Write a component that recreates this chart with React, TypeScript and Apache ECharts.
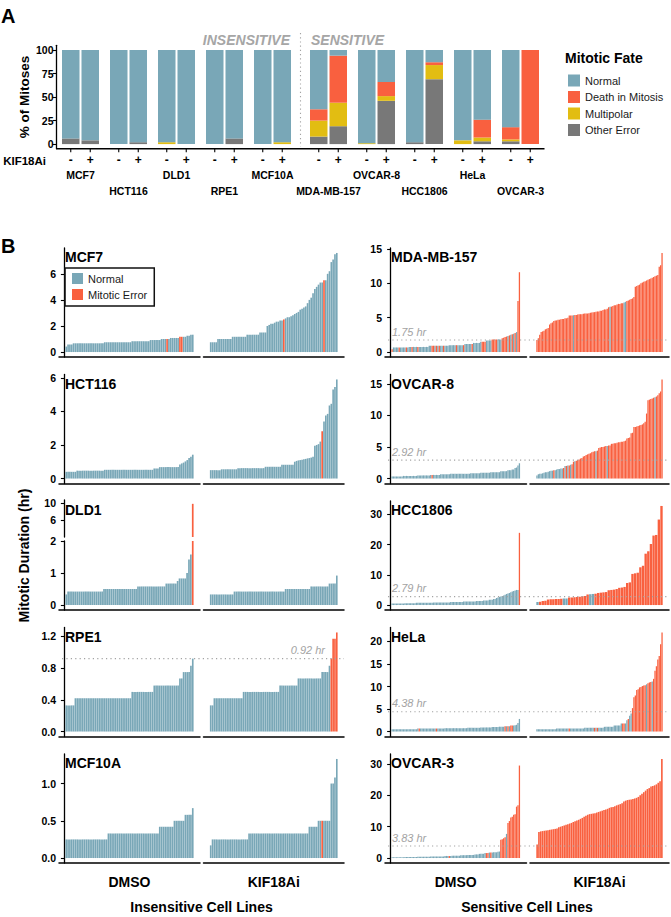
import React, { useEffect, useRef } from "react";
import * as echarts from "echarts";

const FONT = '"Liberation Sans", Arial, Helvetica, sans-serif';
const C_NORMAL = "#79A7B7";
const C_DEATH = "#F9603F";
const C_MULTI = "#E2BD12";
const C_OTHER = "#787878";
const C_REF = "#A3A3A3";

// ---------------- Panel A data (% of mitoses) ----------------
const cellLines = ["MCF7", "HCT116", "DLD1", "RPE1", "MCF10A", "MDA-MB-157", "OVCAR-8", "HCC1806", "HeLa", "OVCAR-3"];
const treatmentMarks = ["-", "+"];
const fateNames = ["Normal", "Death in Mitosis", "Multipolar", "Other Error"];
const dmsoNormal = [94, 100, 98, 100, 100, 63, 99, 98, 96, 82];
const dmsoDeath = [0, 0, 0, 0, 0, 12, 0, 0, 0, 13];
const dmsoMulti = [0, 0, 2, 0, 0, 17, 1, 0, 4, 2];
const dmsoOther = [6, 0, 0, 0, 0, 8, 0, 2, 0, 3];
const kifNormal = [96, 98, 100, 94, 98, 6, 34, 13, 74, 0];
const kifDeath = [0, 0, 0, 0, 0, 50, 15, 3, 19, 100];
const kifMulti = [0, 0, 0, 0, 2, 25, 5, 15, 4, 0];
const kifOther = [4, 2, 0, 6, 0, 19, 46, 69, 3, 0];
const pctTicks = [0, 25, 50, 75, 100];

// ---------------- Panel B data (mitotic duration, hr) ----------------
const mcf7Dmso = [
  0.42, 0.58, 0.58, 0.58, 0.67, 0.67, 0.67, 0.67, 0.67, 0.67,
  0.67, 0.67, 0.67, 0.67, 0.67, 0.67, 0.67, 0.67, 0.67, 0.67,
  0.67, 0.75, 0.75, 0.75, 0.75, 0.75, 0.75, 0.75, 0.75, 0.75,
  0.75, 0.75, 0.75, 0.75, 0.75, 0.75, 0.83, 0.83, 0.83, 0.83,
  0.83, 0.83, 0.83, 0.83, 0.83, 0.83, 0.92, 0.92, 0.92, 0.92,
  0.92, 0.92, 1.0, 1.0, 1.0, 1.0, 1.0, 1.08, 1.08, 1.08,
  1.08, 1.08, 1.17, 1.17, 1.17, 1.17, 1.25, 1.25, 1.33, 1.33,
];
const mcf7DmsoErr = [55, 62, 63];
const mcf7Kif = [
  0.75, 0.75, 0.75, 0.75, 1.0, 1.0, 1.0, 1.0, 1.0, 1.0,
  1.0, 1.0, 1.17, 1.17, 1.17, 1.17, 1.17, 1.17, 1.17, 1.17,
  1.33, 1.33, 1.33, 1.33, 1.33, 1.33, 1.33, 1.5, 1.5, 1.5,
  1.5, 2.0, 2.08, 2.17, 2.17, 2.25, 2.33, 2.33, 2.42, 2.42,
  2.5, 2.58, 2.67, 2.67, 2.75, 2.83, 2.92, 3.0, 3.08, 3.25,
  3.33, 3.42, 3.5, 3.75, 4.0, 4.17, 4.5, 4.83, 5.0, 5.17,
  5.33, 5.33, 5.5, 5.5, 6.0, 6.2, 6.9, 7.1, 7.5, 7.6,
];
const mcf7KifErr = [40, 62];
const mcf7Ticks = [0, 2, 4, 6];

const hct116Dmso = [
  0.4, 0.4, 0.4, 0.4, 0.4, 0.4, 0.47, 0.47, 0.47, 0.47,
  0.47, 0.47, 0.47, 0.47, 0.47, 0.47, 0.47, 0.47, 0.47, 0.47,
  0.47, 0.52, 0.52, 0.52, 0.52, 0.52, 0.52, 0.52, 0.52, 0.52,
  0.52, 0.52, 0.52, 0.52, 0.52, 0.52, 0.52, 0.52, 0.52, 0.52,
  0.52, 0.52, 0.52, 0.52, 0.52, 0.52, 0.52, 0.52, 0.6, 0.6,
  0.6, 0.68, 0.68, 0.68, 0.68, 0.68, 0.68, 0.68, 0.68, 0.68,
  0.68, 0.68, 0.84, 0.9, 0.95, 1.02, 1.1, 1.22, 1.3, 1.42,
];
const hct116DmsoErr: number[] = [];
const hct116Kif = [
  0.5, 0.5, 0.5, 0.5, 0.5, 0.5, 0.55, 0.55, 0.55, 0.55,
  0.55, 0.55, 0.55, 0.55, 0.55, 0.62, 0.62, 0.62, 0.62, 0.62,
  0.62, 0.62, 0.62, 0.62, 0.62, 0.62, 0.62, 0.62, 0.62, 0.62,
  0.7, 0.7, 0.7, 0.7, 0.7, 0.7, 0.7, 0.7, 0.7, 0.82,
  0.82, 0.82, 0.82, 0.82, 0.82, 0.82, 1.0, 1.05, 1.08, 1.1,
  1.12, 1.15, 1.17, 1.2, 1.22, 1.25, 1.3, 1.95, 2.0, 2.05,
  2.2, 2.82, 3.4, 3.75, 3.85, 4.35, 4.45, 5.3, 5.45, 5.9,
];
const hct116KifErr = [61];
const hct116Ticks = [0, 2, 4, 6];

const dld1Dmso = [
  0.33, 0.42, 0.42, 0.42, 0.42, 0.42, 0.42, 0.42, 0.42, 0.42,
  0.42, 0.42, 0.42, 0.42, 0.42, 0.42, 0.42, 0.42, 0.42, 0.42,
  0.5, 0.5, 0.5, 0.5, 0.5, 0.5, 0.5, 0.5, 0.5, 0.5,
  0.5, 0.5, 0.5, 0.5, 0.5, 0.5, 0.5, 0.5, 0.58, 0.58,
  0.58, 0.58, 0.58, 0.58, 0.58, 0.58, 0.58, 0.58, 0.58, 0.58,
  0.58, 0.58, 0.58, 0.67, 0.67, 0.67, 0.67, 0.67, 0.67, 0.75,
  0.83, 0.83, 0.83, 0.83, 1.0, 1.42, 1.58, 9.8,
];
const dld1DmsoErr = [67];
const dld1Kif = [
  0.33, 0.33, 0.33, 0.33, 0.33, 0.33, 0.33, 0.33, 0.33, 0.33,
  0.33, 0.33, 0.33, 0.42, 0.42, 0.42, 0.42, 0.42, 0.42, 0.42,
  0.42, 0.42, 0.42, 0.42, 0.42, 0.42, 0.42, 0.42, 0.42, 0.42,
  0.42, 0.42, 0.42, 0.42, 0.42, 0.42, 0.42, 0.42, 0.42, 0.42,
  0.42, 0.5, 0.5, 0.5, 0.5, 0.5, 0.5, 0.5, 0.5, 0.5,
  0.5, 0.5, 0.5, 0.5, 0.5, 0.58, 0.58, 0.58, 0.58, 0.58,
  0.58, 0.58, 0.58, 0.58, 0.58, 0.67, 0.67, 0.67, 0.67, 0.92,
];
const dld1KifErr: number[] = [];
const dld1LowTicks = [0, 1, 2];
const dld1HighTicks = [6, 10];
const dld1LowRange = [-0.156, 2.0];
const dld1HighRange = [2.0, 10.7];

const rpe1Dmso = [
  0.33, 0.33, 0.33, 0.33, 0.33, 0.42, 0.42, 0.42, 0.42, 0.42,
  0.42, 0.42, 0.42, 0.42, 0.42, 0.42, 0.42, 0.42, 0.42, 0.42,
  0.42, 0.42, 0.42, 0.42, 0.42, 0.42, 0.42, 0.42, 0.42, 0.42,
  0.42, 0.42, 0.42, 0.42, 0.42, 0.42, 0.5, 0.5, 0.5, 0.5,
  0.5, 0.5, 0.5, 0.5, 0.5, 0.5, 0.5, 0.5, 0.58, 0.58,
  0.58, 0.58, 0.58, 0.58, 0.58, 0.58, 0.58, 0.58, 0.58, 0.58,
  0.58, 0.58, 0.67, 0.67, 0.75, 0.75, 0.75, 0.75, 0.83, 0.92,
];
const rpe1DmsoErr: number[] = [];
const rpe1Kif = [
  0.33, 0.33, 0.42, 0.42, 0.42, 0.42, 0.42, 0.42, 0.42, 0.42,
  0.42, 0.42, 0.42, 0.42, 0.42, 0.42, 0.42, 0.42, 0.5, 0.5,
  0.5, 0.5, 0.5, 0.5, 0.5, 0.5, 0.5, 0.5, 0.5, 0.5,
  0.5, 0.5, 0.5, 0.5, 0.5, 0.5, 0.5, 0.5, 0.58, 0.58,
  0.58, 0.58, 0.58, 0.58, 0.58, 0.58, 0.58, 0.58, 0.67, 0.67,
  0.67, 0.67, 0.67, 0.67, 0.67, 0.67, 0.67, 0.67, 0.67, 0.67,
  0.67, 0.75, 0.75, 0.75, 0.75, 0.83, 0.92, 1.17, 1.17, 1.25,
];
const rpe1KifErr = [66, 67, 68, 69];
const rpe1Ticks = [0, 0.4, 0.8, 1.2];
const rpe1Thr = 0.92;

const mcf10aDmso = [
  0.25, 0.25, 0.25, 0.25, 0.25, 0.25, 0.25, 0.25, 0.25, 0.25,
  0.25, 0.25, 0.25, 0.25, 0.25, 0.25, 0.25, 0.25, 0.25, 0.25,
  0.25, 0.25, 0.25, 0.33, 0.33, 0.33, 0.33, 0.33, 0.33, 0.33,
  0.33, 0.33, 0.33, 0.33, 0.33, 0.33, 0.33, 0.33, 0.33, 0.33,
  0.33, 0.33, 0.33, 0.33, 0.33, 0.33, 0.33, 0.33, 0.33, 0.33,
  0.33, 0.42, 0.42, 0.42, 0.42, 0.42, 0.42, 0.42, 0.42, 0.5,
  0.5, 0.5, 0.5, 0.5, 0.5, 0.58, 0.58, 0.58, 0.58, 0.67,
];
const mcf10aDmsoErr: number[] = [];
const mcf10aKif = [
  0.17, 0.25, 0.25, 0.25, 0.25, 0.25, 0.25, 0.25, 0.25, 0.25,
  0.25, 0.25, 0.25, 0.25, 0.25, 0.25, 0.25, 0.25, 0.25, 0.25,
  0.25, 0.33, 0.33, 0.33, 0.33, 0.33, 0.33, 0.33, 0.33, 0.33,
  0.33, 0.33, 0.33, 0.33, 0.33, 0.33, 0.33, 0.33, 0.33, 0.33,
  0.33, 0.33, 0.33, 0.33, 0.33, 0.33, 0.33, 0.33, 0.33, 0.33,
  0.33, 0.33, 0.33, 0.33, 0.42, 0.42, 0.42, 0.42, 0.42, 0.5,
  0.5, 0.5, 0.5, 0.5, 0.5, 0.5, 1.0, 1.0, 1.08, 1.33,
];
const mcf10aKifErr = [61];
const mcf10aTicks = [0, 0.5, 1.0];

const mdaDmso = [
  0.42, 0.67, 0.67, 0.67, 0.67, 0.67, 0.67, 0.67, 0.67, 0.67,
  0.67, 0.67, 0.75, 0.75, 0.75, 0.75, 0.75, 0.75, 0.75, 0.75,
  0.75, 0.75, 0.75, 0.75, 0.75, 0.75, 0.92, 0.92, 0.92, 0.92,
  0.92, 0.92, 0.92, 0.92, 0.92, 0.92, 0.92, 0.92, 0.92, 0.92,
  1.0, 1.0, 1.0, 1.0, 1.0, 1.0, 1.0, 1.0, 1.0, 1.0,
  1.0, 1.17, 1.17, 1.17, 1.17, 1.17, 1.17, 1.33, 1.33, 1.33,
  1.33, 1.33, 1.5, 1.5, 1.5, 1.5, 1.67, 1.67, 1.67, 1.67,
  1.83, 1.83, 1.83, 1.83, 1.83, 1.83, 1.83, 2.0, 2.08, 2.17,
  2.25, 2.33, 2.42, 2.5, 2.58, 2.67, 2.75, 2.9, 7.4, 11.6,
];
const mdaDmsoErr = [0, 5, 10, 14, 18, 28, 29, 31, 33, 36, 45, 50, 56, 63, 64, 65, 70, 71, 72, 73, 77, 78, 79, 80, 82, 84, 86, 88, 89];
const mdaKif = [
  1.75, 2.0, 2.5, 2.9, 3.0, 3.1, 3.3, 3.4, 3.5, 4.0,
  4.2, 4.3, 4.5, 4.6, 4.6, 4.7, 4.7, 4.75, 4.8, 4.8,
  4.9, 4.9, 5.0, 5.3, 5.3, 5.3, 5.35, 5.4, 5.4, 5.45,
  5.5, 5.5, 5.5, 5.55, 5.6, 5.6, 5.6, 5.65, 5.7, 5.75,
  5.8, 5.8, 5.85, 5.9, 5.9, 6.0, 6.0, 6.1, 6.2, 6.2,
  6.3, 6.5, 6.6, 6.6, 6.7, 6.8, 6.8, 6.9, 7.0, 7.0,
  7.1, 7.1, 7.2, 7.3, 7.4, 7.5, 7.6, 7.7, 7.8, 8.0,
  9.5, 9.6, 9.7, 9.8, 10.0, 10.1, 10.2, 10.3, 10.4, 10.5,
  10.6, 10.7, 10.8, 10.9, 11.0, 11.1, 11.2, 12.4, 12.6, 14.4,
];
const mdaKifNormal = [26, 52, 62, 63];
const mdaTicks = [0, 5, 10, 15];
const mdaThr = 1.75;

const ovcar8Dmso = [
  0.33, 0.33, 0.33, 0.33, 0.33, 0.33, 0.33, 0.33, 0.42, 0.42,
  0.42, 0.42, 0.42, 0.42, 0.42, 0.42, 0.42, 0.42, 0.5, 0.5,
  0.5, 0.5, 0.5, 0.5, 0.5, 0.5, 0.5, 0.58, 0.58, 0.58,
  0.58, 0.58, 0.58, 0.58, 0.67, 0.67, 0.67, 0.67, 0.67, 0.67,
  0.67, 0.75, 0.75, 0.75, 0.75, 0.75, 0.75, 0.75, 0.75, 0.75,
  0.75, 0.75, 0.75, 0.75, 0.75, 0.83, 0.83, 0.83, 0.83, 0.83,
  0.83, 0.83, 0.92, 0.92, 0.92, 0.92, 0.92, 0.92, 0.92, 1.0,
  1.0, 1.0, 1.0, 1.0, 1.0, 1.0, 1.17, 1.17, 1.17, 1.17,
  1.17, 1.33, 1.33, 1.33, 1.42, 1.42, 1.67, 1.75, 2.08, 2.42,
];
const ovcar8DmsoErr = [28];
const ovcar8Kif = [
  0.5, 0.67, 0.75, 0.75, 0.83, 0.92, 1.0, 1.0, 1.08, 1.17,
  1.25, 1.25, 1.33, 1.33, 1.42, 1.5, 1.5, 1.58, 1.58, 1.67,
  2.0, 2.0, 2.08, 2.08, 2.17, 2.25, 2.67, 2.75, 2.83, 2.92,
  3.0, 3.17, 3.25, 3.5, 3.58, 3.75, 3.83, 3.92, 4.0, 4.17,
  4.25, 4.33, 4.33, 4.42, 4.83, 4.92, 5.0, 5.0, 5.08, 5.17,
  5.17, 5.25, 5.25, 5.5, 5.5, 5.58, 5.58, 5.67, 5.75, 5.75,
  5.83, 5.83, 5.92, 6.0, 6.33, 6.42, 6.5, 7.17, 7.25, 8.17,
  8.17, 8.25, 8.33, 8.42, 8.5, 8.58, 8.75, 9.0, 10.3, 12.4,
  12.5, 12.6, 12.7, 12.8, 12.9, 13.0, 13.2, 13.5, 13.8, 15.7,
];
const ovcar8KifNormal = [0, 1, 2, 3, 4, 5, 6, 7, 8, 9, 10, 11, 13, 14, 15, 16, 17, 18, 20, 22, 24, 27, 42, 50, 84];
const ovcar8Ticks = [0, 5, 10, 15];
const ovcar8Thr = 2.92;

const hccDmso = [
  0.5, 0.5, 0.5, 0.5, 0.5, 0.5, 0.5, 0.5, 0.5, 0.58,
  0.58, 0.58, 0.58, 0.58, 0.58, 0.58, 0.58, 0.75, 0.75, 0.75,
  0.75, 0.75, 0.75, 0.75, 0.75, 0.75, 0.75, 0.75, 0.75, 0.83,
  0.83, 0.83, 0.83, 0.83, 0.83, 0.83, 0.83, 0.83, 0.83, 0.83,
  0.83, 1.0, 1.0, 1.0, 1.0, 1.0, 1.0, 1.0, 1.0, 1.0,
  1.17, 1.17, 1.17, 1.17, 1.17, 1.17, 1.17, 1.17, 1.17, 1.33,
  1.33, 1.33, 1.33, 1.33, 1.5, 1.5, 1.5, 1.5, 1.75, 1.75,
  1.75, 2.0, 2.0, 2.33, 2.5, 2.67, 2.83, 3.0, 3.17, 3.42,
  3.67, 3.83, 4.0, 4.25, 4.5, 4.67, 4.83, 5.0, 5.0, 23.9,
];
const hccDmsoErr = [89];
const hccKif = [
  1.0, 1.08, 1.33, 1.42, 1.83, 1.92, 1.92, 2.0, 2.0, 2.08,
  2.17, 2.17, 2.5, 2.5, 2.58, 2.67, 2.75, 2.92, 3.0, 3.5,
  3.58, 3.67, 3.75, 4.0, 4.1, 4.2, 4.3, 4.9, 5.0, 5.1,
  5.3, 5.7, 5.8, 6.0, 7.3, 7.5, 10.3, 10.5, 10.7, 12.5,
  13.0, 17.0, 17.8, 20.2, 23.0, 23.2, 28.3, 32.8,
];
const hccKifNormal = [0, 10, 11, 20, 21];
const hccTicks = [0, 10, 20, 30];
const hccThr = 2.79;

const helaDmso = [
  0.5, 0.5, 0.5, 0.5, 0.5, 0.5, 0.5, 0.5, 0.5, 0.5,
  0.5, 0.5, 0.5, 0.5, 0.5, 0.5, 0.5, 0.5, 0.67, 0.67,
  0.67, 0.67, 0.67, 0.67, 0.67, 0.67, 0.67, 0.67, 0.67, 0.67,
  0.67, 0.67, 0.67, 0.67, 0.67, 0.67, 0.67, 0.75, 0.75, 0.75,
  0.75, 0.75, 0.75, 0.75, 0.75, 0.75, 0.75, 0.75, 0.75, 0.75,
  0.75, 0.75, 0.75, 0.83, 0.83, 0.83, 0.83, 0.83, 0.83, 0.83,
  0.83, 0.83, 0.92, 0.92, 0.92, 0.92, 0.92, 0.92, 0.92, 0.92,
  1.0, 1.0, 1.0, 1.0, 1.0, 1.08, 1.08, 1.08, 1.08, 1.17,
  1.17, 1.17, 1.17, 1.33, 1.33, 1.33, 1.42, 1.5, 1.9, 2.8,
];
const helaDmsoErr = [19, 31, 79, 81, 83, 84];
const helaKif = [
  0.5, 0.5, 0.5, 0.5, 0.5, 0.5, 0.5, 0.5, 0.5, 0.5,
  0.5, 0.5, 0.5, 0.5, 0.67, 0.67, 0.67, 0.67, 0.67, 0.67,
  0.67, 0.67, 0.67, 0.67, 0.67, 0.67, 0.67, 0.67, 0.67, 0.67,
  0.67, 0.67, 0.67, 0.67, 0.83, 0.83, 0.83, 0.83, 0.83, 0.83,
  0.83, 0.83, 0.83, 0.83, 0.83, 0.83, 0.83, 0.83, 1.05, 1.05,
  1.05, 1.05, 1.05, 1.05, 1.05, 1.35, 1.35, 1.35, 1.35, 1.35,
  1.8, 1.8, 1.8, 1.8, 2.5, 2.8, 3.5, 4.0, 5.2, 7.6,
  8.0, 9.2, 9.4, 9.8, 9.9, 10.1, 10.2, 10.3, 10.5, 10.7,
  10.9, 11.0, 11.1, 11.7, 13.5, 14.5, 16.0, 16.8, 19.4, 22.0,
];
const helaKifErr = [23, 41, 43, 61, 62, 65, 68, 69, 70, 71, 72, 73, 74, 75, 76, 77, 79, 80, 81, 83, 84, 85, 86, 87, 88, 89];
const helaTicks = [0, 5, 10, 15, 20];
const helaThr = 4.38;

const ovcar3Dmso = [
  0.25, 0.25, 0.25, 0.25, 0.25, 0.25, 0.25, 0.25, 0.25, 0.33,
  0.33, 0.33, 0.33, 0.33, 0.33, 0.33, 0.33, 0.33, 0.42, 0.42,
  0.42, 0.42, 0.42, 0.42, 0.42, 0.42, 0.42, 0.5, 0.5, 0.5,
  0.5, 0.5, 0.5, 0.5, 0.5, 0.5, 0.5, 0.67, 0.67, 0.67,
  0.67, 0.67, 0.75, 0.75, 0.75, 0.75, 0.75, 0.75, 0.92, 0.92,
  0.92, 0.92, 0.92, 1.0, 1.0, 1.0, 1.0, 1.0, 1.17, 1.17,
  1.17, 1.33, 1.33, 1.33, 1.33, 1.58, 1.58, 1.58, 1.75, 1.75,
  1.75, 1.83, 1.83, 1.83, 2.0, 2.08, 5.8, 6.0, 6.3, 6.6,
  7.7, 11.2, 11.8, 12.9, 13.2, 13.8, 14.0, 16.4, 16.8, 29.5,
];
const ovcar3DmsoErr = [40, 66, 67, 69, 76, 77, 78, 79, 81, 82, 83, 84, 85, 86, 87, 88, 89];
const ovcar3Kif = [
  4.3, 8.3, 8.5, 8.6, 8.7, 8.8, 8.9, 9.0, 9.1, 9.2,
  9.3, 9.4, 9.8, 10.0, 10.2, 10.4, 10.6, 10.8, 11.0, 11.2,
  11.5, 11.7, 12.0, 12.2, 12.5, 12.8, 13.2, 13.5, 13.8, 14.0,
  14.1, 14.2, 14.3, 14.5, 14.7, 14.9, 15.1, 15.3, 15.5, 15.7,
  16.0, 16.2, 16.3, 16.5, 16.8, 17.0, 17.2, 17.5, 18.0, 18.3,
  18.5, 18.6, 18.7, 18.8, 19.0, 19.2, 19.5, 20.0, 20.5, 21.0,
  21.5, 22.0, 22.3, 22.8, 23.0, 23.2, 23.5, 24.0, 24.5, 31.6,
];
const ovcar3KifNormal: number[] = [];
const ovcar3Ticks = [0, 10, 20, 30];
const ovcar3Thr = 3.83;

const conditionLabels = ["DMSO", "KIF18Ai"];
const groupLabels = ["Insensitive Cell Lines", "Sensitive Cell Lines"];

type Panel = {
  title: string; col: number; row: number;
  dmso: number[]; kif: number[];
  dErr?: number[]; dOk?: number[]; kErr?: number[]; kOk?: number[];
  ticks: number[]; highTicks?: number[]; broken?: boolean;
  thr?: number; thrRight?: boolean;
};

const PANELS: Panel[] = [
  { title: "MCF7", col: 0, row: 0, dmso: mcf7Dmso, dErr: mcf7DmsoErr, kif: mcf7Kif, kErr: mcf7KifErr, ticks: mcf7Ticks },
  { title: "HCT116", col: 0, row: 1, dmso: hct116Dmso, dErr: hct116DmsoErr, kif: hct116Kif, kErr: hct116KifErr, ticks: hct116Ticks },
  { title: "DLD1", col: 0, row: 2, dmso: dld1Dmso, dErr: dld1DmsoErr, kif: dld1Kif, kErr: dld1KifErr, ticks: dld1LowTicks, highTicks: dld1HighTicks, broken: true },
  { title: "RPE1", col: 0, row: 3, dmso: rpe1Dmso, dErr: rpe1DmsoErr, kif: rpe1Kif, kErr: rpe1KifErr, ticks: rpe1Ticks, thr: rpe1Thr, thrRight: true },
  { title: "MCF10A", col: 0, row: 4, dmso: mcf10aDmso, dErr: mcf10aDmsoErr, kif: mcf10aKif, kErr: mcf10aKifErr, ticks: mcf10aTicks },
  { title: "MDA-MB-157", col: 1, row: 0, dmso: mdaDmso, dErr: mdaDmsoErr, kif: mdaKif, kOk: mdaKifNormal, ticks: mdaTicks, thr: mdaThr },
  { title: "OVCAR-8", col: 1, row: 1, dmso: ovcar8Dmso, dErr: ovcar8DmsoErr, kif: ovcar8Kif, kOk: ovcar8KifNormal, ticks: ovcar8Ticks, thr: ovcar8Thr },
  { title: "HCC1806", col: 1, row: 2, dmso: hccDmso, dErr: hccDmsoErr, kif: hccKif, kOk: hccKifNormal, ticks: hccTicks, thr: hccThr },
  { title: "HeLa", col: 1, row: 3, dmso: helaDmso, dErr: helaDmsoErr, kif: helaKif, kErr: helaKifErr, ticks: helaTicks, thr: helaThr },
  { title: "OVCAR-3", col: 1, row: 4, dmso: ovcar3Dmso, dErr: ovcar3DmsoErr, kif: ovcar3Kif, kOk: ovcar3KifNormal, ticks: ovcar3Ticks, thr: ovcar3Thr },
];

// ---------------- layout ----------------
const A_TOP = 45.3;
const A_H = 103.5;
const A_GRIDS = [{ left: 56.5, width: 240 }, { left: 304.5, width: 240 }];
const A_BAR_W = 17.5;
const A_BAR_GAP = 2;
const COLS = [
  { axisX: 59, d: [59, 200], k: [203.5, 344] },
  { axisX: 385, d: [385, 526.5], k: [530, 669] },
];
const ROW_TOP = 248;
const ROW_PITCH = 126.5;
const ROW_H = 109;

const boldTick = { fontFamily: FONT, fontWeight: "bold" as const, fontSize: 10.5, color: "#000" };

function fmt(ticks: number[]) {
  const dec = ticks.some((t) => Math.abs(t - Math.round(t)) > 1e-9) ? 1 : 0;
  return (v: number) => Number(v).toFixed(dec);
}

function buildOption() {
  const grid: any[] = [];
  const xAxis: any[] = [];
  const yAxis: any[] = [];
  const series: any[] = [];
  const thrRefs: { yIdx: number; p: Panel }[] = [];

  // ----- Panel A -----
  A_GRIDS.forEach((g, gi) => {
    const idx = grid.length;
    const off = gi * 5;
    grid.push({ left: g.left, top: A_TOP, width: g.width, height: A_H, containLabel: false, outerBoundsMode: "none" });
    xAxis.push({
      type: "category", gridIndex: idx, data: cellLines.slice(off, off + 5),
      axisLine: { show: false, onZero: false },
      axisTick: { show: false }, splitLine: { show: false },
      axisLabel: {
        interval: 0, margin: 4.5, color: "#000",
        formatter: (v: string, i: number) => {
          const pm = `{pm|${treatmentMarks[0]}}{pm|${treatmentMarks[1]}}`;
          return (i + off) % 2 === 0 ? `${pm}\n{nm|${v}}` : `${pm}\n{nm| }\n{nm|${v}}`;
        },
        rich: {
          pm: { fontFamily: FONT, fontWeight: "bold", fontSize: 12, width: A_BAR_W + A_BAR_GAP, align: "center", lineHeight: 14, color: "#000" },
          nm: { fontFamily: FONT, fontWeight: "bold", fontSize: 10.5, lineHeight: 16, align: "center", color: "#000" },
        },
      },
    });
    yAxis.push({
      type: "value", gridIndex: idx, min: -5, max: 105, show: gi === 0,
      axisLine: { show: true, lineStyle: { color: "#000", width: 1.3 } },
      axisTick: { show: true, length: 4, customValues: pctTicks, lineStyle: { color: "#000", width: 1.1 } },
      axisLabel: { ...boldTick, margin: 3, customValues: pctTicks },
      splitLine: { show: false },
    });
    const sl = (a: number[]) => a.slice(off, off + 5);
    const stacks: [string, number[][]][] = [
      ["dmso", [dmsoOther, dmsoMulti, dmsoDeath, dmsoNormal]],
      ["kif", [kifOther, kifMulti, kifDeath, kifNormal]],
    ];
    const names = [fateNames[3], fateNames[2], fateNames[1], fateNames[0]];
    const colors = [C_OTHER, C_MULTI, C_DEATH, C_NORMAL];
    stacks.forEach(([st, arrs]) => {
      arrs.forEach((arr, k) => {
        series.push({
          type: "bar", name: names[k], stack: st + gi, xAxisIndex: idx, yAxisIndex: idx,
          data: sl(arr), barWidth: A_BAR_W, barGap: `${(A_BAR_GAP / A_BAR_W) * 100}%`,
          itemStyle: { color: colors[k] }, silent: true,
        });
      });
    });
  });

  // ----- Panel B -----
  PANELS.forEach((p) => {
    const L = COLS[p.col];
    const top = ROW_TOP + p.row * ROW_PITCH;
    const M = Math.max(...p.dmso, ...p.kif);
    const segs = p.broken
      ? [
          { top: top + 40, h: ROW_H - 40, min: dld1LowRange[0], max: dld1LowRange[1], ticks: p.ticks, xLine: true, above: false },
          { top: top - 1, h: 37, min: dld1HighRange[0], max: dld1HighRange[1], ticks: p.highTicks || [], xLine: false, above: true },
        ]
      : [{ top, h: ROW_H, min: -0.05 * M, max: 1.05 * M, ticks: p.ticks, xLine: true, above: false }];
    segs.forEach((seg, si) => {
      [0, 1].forEach((cond) => {
        const [x0, x1] = cond === 0 ? L.d : L.k;
        const vals = cond === 0 ? p.dmso : p.kif;
        const err = cond === 0 ? p.dErr : p.kErr;
        const ok = cond === 0 ? p.dOk : p.kOk;
        const isErr = (i: number) => (ok ? !ok.includes(i) : (err || []).includes(i));
        const N = vals.length;
        const xMin = 0.55 - 0.05 * (N - 0.1);
        const xMax = N + 0.45 + 0.05 * (N - 0.1);
        const gi = grid.length;
        grid.push({ left: x0, top: seg.top, width: x1 - x0, height: seg.h, containLabel: false, outerBoundsMode: "none" });
        xAxis.push({
          type: "value", gridIndex: gi, min: xMin, max: xMax,
          axisLine: { show: seg.xLine, onZero: false, lineStyle: { color: "#000", width: 1.5 } },
          axisTick: { show: false }, axisLabel: { show: false }, splitLine: { show: false },
        });
        yAxis.push({
          type: "value", gridIndex: gi, min: seg.min, max: seg.max, show: cond === 0,
          axisLine: { show: true, lineStyle: { color: "#000", width: 1.3 } },
          axisTick: { show: true, length: 3.5, customValues: seg.ticks, lineStyle: { color: "#000", width: 1.1 } },
          axisLabel: { ...boldTick, margin: 3, customValues: seg.ticks, formatter: fmt(seg.ticks) },
          splitLine: { show: false },
        });
        if (cond === 0 && si === 0 && p.thr !== undefined) thrRefs.push({ yIdx: gi, p });
        const bw = (0.9 * (x1 - x0)) / (xMax - xMin);
        const keep = (v: number) => !seg.above || v > seg.min;
        const normalData: number[][] = [];
        const errData: number[][] = [];
        vals.forEach((v, i) => {
          if (!keep(v)) return;
          (isErr(i) ? errData : normalData).push([i + 1, v]);
        });
        series.push({
          type: "bar", name: "Normal", xAxisIndex: gi, yAxisIndex: gi, data: normalData,
          barWidth: bw, barGap: "-100%", itemStyle: { color: C_NORMAL }, clip: true, silent: true,
        });
        series.push({
          type: "bar", name: "Mitotic Error", xAxisIndex: gi, yAxisIndex: gi, data: errData,
          barWidth: bw, barGap: "-100%", itemStyle: { color: C_DEATH }, clip: true, silent: true,
        });
      });
    });
  });

  const option: any = {
    animation: false,
    backgroundColor: "#fff",
    textStyle: { fontFamily: FONT },
    grid, xAxis, yAxis, series,
    legend: [
      {
        data: fateNames, orient: "vertical", left: 568, top: 74.5, itemWidth: 12, itemHeight: 12, itemGap: 4.5,
        icon: "rect", selectedMode: false, padding: 0,
        textStyle: { fontFamily: FONT, fontSize: 11, color: "#1a1a1a" },
      },
      {
        data: ["Normal", "Mitotic Error"], orient: "vertical", left: 65, top: 268, itemWidth: 11, itemHeight: 11, itemGap: 5,
        icon: "rect", selectedMode: false, padding: [5, 7, 6, 7], borderColor: "#111", borderWidth: 1.5,
        textStyle: { fontFamily: FONT, fontSize: 11, color: "#1a1a1a" },
      },
    ],
  };
  return { option, thrRefs };
}

function text(x: number, y: number, t: string, o: any = {}) {
  return {
    type: "text", x, y, rotation: o.rot || 0, silent: true, z: 100,
    style: {
      text: t, fill: o.fill || "#000", fontFamily: FONT, fontSize: o.size || 14,
      fontWeight: o.weight || "bold", fontStyle: o.style || "normal",
      textAlign: o.align || "left", textVerticalAlign: "middle",
    },
  };
}

function buildGraphics(chart: any, thrRefs: { yIdx: number; p: Panel }[]) {
  const g: any[] = [];
  const aBottom = A_TOP + A_H;
  // Panel A
  g.push(text(1, 16, "A", { size: 20 }));
  g.push(text(290, 40, "INSENSITIVE", { fill: "#A6A6A6", style: "italic", size: 14, align: "right" }));
  g.push(text(311, 40, "SENSITIVE", { fill: "#A6A6A6", style: "italic", size: 14 }));
  const midX = (A_GRIDS[0].left + A_GRIDS[0].width + A_GRIDS[1].left) / 2;
  g.push({ type: "line", silent: true, shape: { x1: midX, y1: 33, x2: midX, y2: aBottom - 2 }, style: { stroke: C_REF, lineWidth: 1.1, lineDash: [1.2, 3] } });
  // continuous x axis line across both facet grids
  g.push({ type: "line", silent: true, z: 60, shape: { x1: A_GRIDS[0].left, y1: aBottom, x2: A_GRIDS[1].left + A_GRIDS[1].width, y2: aBottom }, style: { stroke: "#000", lineWidth: 1.5 } });
  // x ticks under each bar
  A_GRIDS.forEach((gr, gi) => {
    cellLines.slice(gi * 5, gi * 5 + 5).forEach((name) => {
      const cx = chart.convertToPixel({ xAxisIndex: gi }, name);
      [-1, 1].forEach((s) => {
        const x = cx + (s * (A_BAR_W + A_BAR_GAP)) / 2;
        g.push({ type: "line", silent: true, z: 60, shape: { x1: x, y1: aBottom, x2: x, y2: aBottom + 3.5 }, style: { stroke: "#000", lineWidth: 1.1 } });
      });
    });
  });
  g.push(text(24, A_TOP + A_H / 2, "% of Mitoses", { size: 13.5, rot: Math.PI / 2, align: "center" }));
  g.push(text(46, 161, "KIF18Ai", { size: 11.5, align: "right" }));
  g.push(text(565, 58, "Mitotic Fate", { size: 14 }));

  // Panel B
  g.push(text(1, 246, "B", { size: 20 }));
  const bTop = ROW_TOP;
  const bBottom = ROW_TOP + 4 * ROW_PITCH + ROW_H;
  g.push(text(24, (bTop + bBottom) / 2, "Mitotic Duration (hr)", { size: 14, rot: Math.PI / 2, align: "center" }));
  PANELS.forEach((p) => {
    const L = COLS[p.col];
    const top = ROW_TOP + p.row * ROW_PITCH;
    g.push(text(L.d[0] + 6, top + 9, p.title, { size: 14 }));
  });
  COLS.forEach((L, ci) => {
    g.push(text((L.d[0] + L.d[1]) / 2, 882, conditionLabels[0], { size: 14, align: "center" }));
    g.push(text((L.k[0] + L.k[1]) / 2, 882, conditionLabels[1], { size: 14, align: "center" }));
    g.push(text((L.d[0] + L.k[1]) / 2, 907, groupLabels[ci], { size: 14, align: "center" }));
  });
  thrRefs.forEach(({ yIdx, p }) => {
    const L = COLS[p.col];
    const y = chart.convertToPixel({ yAxisIndex: yIdx }, p.thr);
    g.push({ type: "line", silent: true, z: 50, shape: { x1: L.axisX + 3, y1: y, x2: L.k[1], y2: y }, style: { stroke: C_REF, lineWidth: 1.1, lineDash: [1.2, 3.2] } });
    const label = `${(p.thr as number).toFixed(2)} hr`;
    if (p.thrRight) g.push(text(L.k[1] - 19, y - 8.5, label, { size: 11, weight: "normal", style: "italic", fill: C_REF, align: "right" }));
    else g.push(text(L.axisX + 7, y - 8.5, label, { size: 11, weight: "normal", style: "italic", fill: C_REF }));
  });
  return g;
}

export default function App() {
  const ref = useRef<HTMLDivElement>(null);
  useEffect(() => {
    document.body.style.margin = "0";
    const chart = echarts.init(ref.current as HTMLDivElement, null, { renderer: "svg" });
    const { option, thrRefs } = buildOption();
    chart.setOption(option);
    chart.setOption({ graphic: buildGraphics(chart, thrRefs) });
    return () => chart.dispose();
  }, []);
  return <div ref={ref} style={{ width: 671, height: 917, background: "#fff" }} />;
}
